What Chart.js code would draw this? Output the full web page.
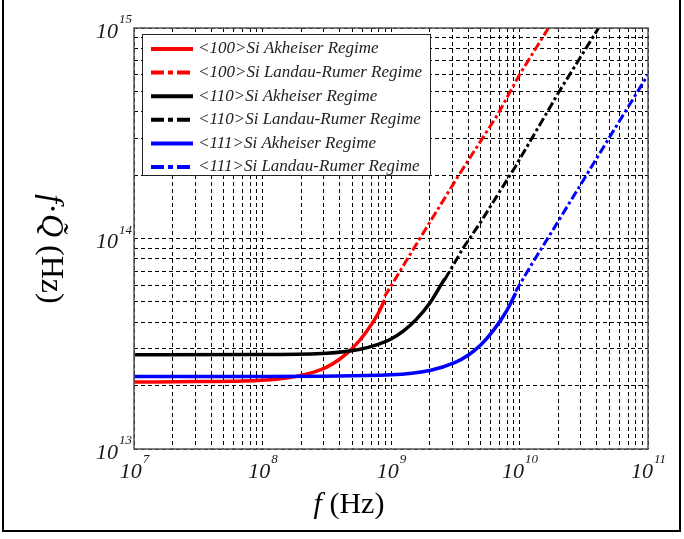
<!DOCTYPE html>
<html>
<head>
<meta charset="utf-8">
<script src="https://cdn.jsdelivr.net/npm/chart.js@4.4.1/dist/chart.umd.min.js"></script>
<style>
  html, body { margin: 0; padding: 0; background: #fff; }
  canvas { display: block; }
</style>
</head>
<body>
<canvas id="fq" width="684" height="539"></canvas>
<script>
// f.Q product of Si along three directions, Akheiser and Landau-Rumer regimes
const akhFreq100 = [1e7, 3.16e7, 1e8, 1.58e8, 2.51e8, 3.16e8, 3.98e8, 5.01e8, 6.31e8, 7.94e8, 8.91e8];
const akhQ100    = [2.08e13, 2.09e13, 2.12e13, 2.18e13, 2.32e13, 2.45e13, 2.67e13, 3.01e13, 3.55e13, 4.4e13, 5.1e13];
const lrFreq100  = [8.91e8, 1.66e9, 3.37e9, 6.8e9, 1.0e10, 1.68e10];
const lrQ100     = [5.3e13, 9.9e13, 2.0e14, 3.9e14, 6.0e14, 1.0e15];

const akhFreq110 = [1e7, 1e8, 3.16e8, 5.62e8, 7.94e8, 1e9, 1.26e9, 1.58e9, 2.0e9, 2.51e9, 2.63e9];
const akhQ110    = [2.80e13, 2.81e13, 2.85e13, 2.97e13, 3.14e13, 3.33e13, 3.65e13, 4.14e13, 4.93e13, 6.17e13, 6.45e13];
const lrFreq110  = [2.63e9, 3.64e9, 5.0e9, 9.3e9, 2.04e10, 4.0e10, 4.12e10];
const lrQ110     = [6.4e13, 9.0e13, 1.2e14, 2.2e14, 5.0e14, 9.7e14, 1.0e15];

const akhFreq111 = [1e7, 1e8, 1e9, 2.0e9, 3.16e9, 3.98e9, 5.01e9, 6.31e9, 7.94e9, 9.33e9];
const akhQ111    = [2.21e13, 2.21e13, 2.25e13, 2.36e13, 2.58e13, 2.79e13, 3.13e13, 3.68e13, 4.53e13, 5.5e13];
const lrFreq111  = [9.33e9, 1.22e10, 1.74e10, 3.02e10, 5.22e10, 1e11];
const lrQ111     = [5.6e13, 7.4e13, 1.05e14, 1.82e14, 3.15e14, 6.0e14];

const seriesNames = [
  '<100>Si Akheiser Regime',
  '<100>Si Landau-Rumer Regime',
  '<110>Si Akheiser Regime',
  '<110>Si Landau-Rumer Regime',
  '<111>Si Akheiser Regime',
  '<111>Si Landau-Rumer Regime'
];
const xDecades = [1e7, 1e8, 1e9, 1e10, 1e11];
const yDecades = [1e13, 1e14, 1e15];

const toPts = (fs, qs) => fs.map((f, i) => ({ x: f, y: qs[i] }));
const dashDot = [9, 3, 3, 3];

function logTicks(decades) {
  const out = [];
  decades.forEach((d, i) => {
    if (i === decades.length - 1) { out.push({ value: d }); return; }
    for (let k = 1; k <= 9; k++) out.push({ value: k * d });
  });
  return out;
}

function powLabel(ctx, v, x, y, mode) {
  const exp = String(Math.round(Math.log10(v)));
  ctx.font = 'italic 22px "Liberation Serif"';
  const bw = ctx.measureText('10').width;
  ctx.font = 'italic 13px "Liberation Serif"';
  const ew = ctx.measureText(exp).width;
  const start = mode === 'x' ? x - (bw + ew) / 2 : x - bw - ew;
  ctx.textAlign = 'left';
  ctx.textBaseline = 'middle';
  ctx.font = 'italic 22px "Liberation Serif"';
  ctx.fillText('10', start, y);
  ctx.font = 'italic 13px "Liberation Serif"';
  ctx.fillText(exp, start + bw + 1, y - 12);
}

const boxLegend = {
  id: 'boxLegend',
  afterDatasetsDraw(chart) {
    const ctx = chart.ctx;
    const x0 = 142, y0 = 34, w = 288, h = 141;
    ctx.save();
    ctx.fillStyle = '#fff';
    ctx.fillRect(x0, y0, w, h);
    ctx.strokeStyle = '#222';
    ctx.lineWidth = 1;
    ctx.strokeRect(x0 + 0.5, y0 + 0.5, w, h);
    chart.data.datasets.forEach((ds, i) => {
      const y = y0 + 15 + i * 23.6;
      ctx.strokeStyle = ds.borderColor;
      ctx.lineWidth = 4;
      ctx.setLineDash(ds.borderDash ? [13, 4, 5, 4] : []);
      ctx.beginPath();
      ctx.moveTo(x0 + 9, y);
      ctx.lineTo(x0 + 51, y);
      ctx.stroke();
      ctx.setLineDash([]);
      ctx.fillStyle = '#222';
      ctx.font = 'italic 17px "Liberation Serif"';
      ctx.textAlign = 'left';
      ctx.textBaseline = 'middle';
      ctx.fillText(ds.label, x0 + 56, y);
    });
    ctx.restore();
  }
};

const decor = {
  id: 'decor',
  afterDraw(chart) {
    const ctx = chart.ctx, a = chart.chartArea;
    const xs = chart.scales.x, ys = chart.scales.y;
    ctx.save();
    // axes frame
    ctx.strokeStyle = '#555';
    ctx.lineWidth = 1.5;
    ctx.strokeRect(a.left, a.top, a.right - a.left, a.bottom - a.top);

    ctx.fillStyle = '#1a1a1a';
    xDecades.forEach(v => powLabel(ctx, v, xs.getPixelForValue(v), 472, 'x'));
    yDecades.forEach(v => powLabel(ctx, v, 131, ys.getPixelForValue(v) + 4, 'y'));

    // x title
    ctx.fillStyle = '#000';
    ctx.textBaseline = 'middle';
    ctx.textAlign = 'left';
    ctx.font = 'italic 30px "Liberation Serif"';
    const fw = ctx.measureText('f').width;
    ctx.font = '30px "Liberation Serif"';
    const hw = ctx.measureText(' (Hz)').width;
    let sx = 349 - (fw + hw) / 2;
    ctx.font = 'italic 30px "Liberation Serif"';
    ctx.fillText('f', sx, 505);
    ctx.font = '30px "Liberation Serif"';
    ctx.fillText(' (Hz)', sx + fw, 505);

    // y title, rotated clockwise
    const parts = [['f', true], ['\u00b7', false], ['Q\u0303', true], [' (Hz)', false]];
    const widths = parts.map(([t, it]) => {
      ctx.font = (it ? 'italic ' : '') + '32px "Liberation Serif"';
      return ctx.measureText(t).width;
    });
    const total = widths.reduce((s, w) => s + w, 0);
    ctx.translate(50, 249);
    ctx.rotate(Math.PI / 2);
    let px = -total / 2;
    parts.forEach(([t, it], i) => {
      ctx.font = (it ? 'italic ' : '') + '32px "Liberation Serif"';
      ctx.fillText(t, px, 0);
      px += widths[i];
    });
    ctx.setTransform(1, 0, 0, 1, 0, 0);

    // figure border
    ctx.fillStyle = '#000';
    ctx.fillRect(2, 0, 2, 532);
    ctx.fillRect(679, 0, 2, 532);
    ctx.fillRect(2, 530, 679, 2);
    ctx.restore();
  }
};

new Chart(document.getElementById('fq'), {
  type: 'line',
  data: {
    datasets: [
      { label: seriesNames[0], data: toPts(akhFreq100, akhQ100), borderColor: '#ff0000', borderWidth: 3.5, order: 5, cubicInterpolationMode: 'monotone' },
      { label: seriesNames[1], data: toPts(lrFreq100, lrQ100), borderColor: '#ff0000', borderWidth: 3, borderDash: dashDot, order: 4 },
      { label: seriesNames[2], data: toPts(akhFreq110, akhQ110), borderColor: '#000000', borderWidth: 3.5, order: 3, cubicInterpolationMode: 'monotone' },
      { label: seriesNames[3], data: toPts(lrFreq110, lrQ110), borderColor: '#000000', borderWidth: 3, borderDash: dashDot, order: 2 },
      { label: seriesNames[4], data: toPts(akhFreq111, akhQ111), borderColor: '#0000ff', borderWidth: 3.5, order: 1, cubicInterpolationMode: 'monotone' },
      { label: seriesNames[5], data: toPts(lrFreq111, lrQ111), borderColor: '#0000ff', borderWidth: 3, borderDash: dashDot, order: 0 }
    ]
  },
  options: {
    responsive: false,
    animation: false,
    devicePixelRatio: 1,
    elements: { point: { radius: 0 } },
    layout: { padding: { left: 134, right: 36, top: 28, bottom: 90 } },
    plugins: { legend: { display: false }, tooltip: { enabled: false } },
    scales: {
      x: {
        type: 'logarithmic',
        min: 1e7,
        max: 1e11,
        afterBuildTicks: (s) => { s.ticks = logTicks(xDecades); },
        ticks: { display: false, autoSkip: false },
        grid: { color: '#000', lineWidth: 1, drawTicks: false },
        border: { display: false, dash: [4, 3] }
      },
      y: {
        type: 'logarithmic',
        min: 1e13,
        max: 1e15,
        afterBuildTicks: (s) => { s.ticks = logTicks(yDecades); },
        ticks: { display: false, autoSkip: false },
        grid: { color: '#000', lineWidth: 1, drawTicks: false },
        border: { display: false, dash: [4, 3] }
      }
    }
  },
  plugins: [boxLegend, decor]
});
</script>
</body>
</html>
